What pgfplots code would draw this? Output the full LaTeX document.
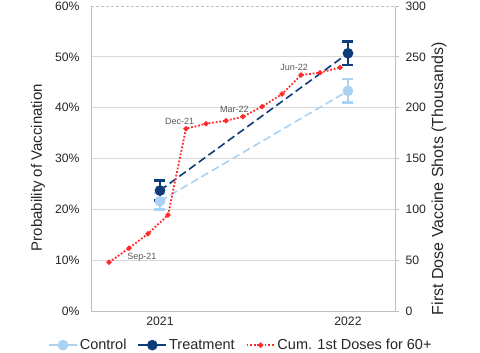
\documentclass[border=0pt]{standalone}
\usepackage{pgfplots}
\pgfplotsset{compat=1.18}
\usepackage{fontspec}
\setmainfont{Liberation Sans}
\definecolor{ctrl}{HTML}{A9D2F3}
\definecolor{treat}{HTML}{0D3C78}
\definecolor{cum}{HTML}{FF2A2A}
\definecolor{gridc}{HTML}{D9D9D9}
\definecolor{axc}{HTML}{BFBFBF}
\definecolor{txt}{HTML}{262626}
\definecolor{lbl}{HTML}{595959}
\begin{document}
\begin{tikzpicture}[x=1pt,y=1pt]
\path[use as bounding box] (-91,-42) rectangle (389,311);
\begin{axis}[
  scale only axis, width=304pt, height=305pt,
  xmin=-0.367, xmax=1.25, ymin=0, ymax=60,
  xtick={0,1}, xticklabels={2021,2022},
  ytick={0,10,...,60},
  yticklabel={\pgfmathprintnumber{\tick}\%},
  /pgf/number format/assume math mode=true,
  axis line style={axc, line width=0.8pt},
  major tick length=0pt,
  ymajorgrids, grid style={gridc, line width=0.8pt},
  tick label style={font=\fontsize{12.2}{14}\selectfont, text=txt},
  yticklabel style={xshift=-8pt},
  ytick pos=left, xtick pos=bottom,
  xticklabel style={yshift=-2pt},
  ylabel={Probability of Vaccination},
  ylabel style={font=\fontsize{15}{17}\selectfont, text=txt, at={(axis description cs:-0.174,0.47)}, anchor=center, rotate=0},
  legend style={draw=none, fill=none, at={(axis description cs:0.493,-0.112)}, anchor=center,
    font=\fontsize{14.5}{16}\selectfont, text=txt, legend columns=3,
    /tikz/every even column/.append style={column sep=9pt},
    nodes={inner xsep=2pt, inner ysep=0.5pt}},
  legend image code/.code={\draw[mark repeat=2,mark phase=2,#1] plot coordinates {(0pt,0pt) (14pt,0pt) (28pt,0pt)};},
]
\draw[white, line width=1.4pt] (rel axis cs:0,1) -- (rel axis cs:1,1);
\draw[axc, line width=0.8pt, dash pattern=on 3pt off 2pt] (rel axis cs:0,1) -- (rel axis cs:1,1);
\addlegendimage{ctrl, line width=1.6pt, mark=*, mark size=4.5pt, mark options={fill=ctrl}}
\addlegendentry{Control}
\addlegendimage{treat, line width=1.6pt, mark=*, mark size=4.5pt, mark options={fill=treat}}
\addlegendentry{Treatment}
\addlegendimage{cum, line width=1.8pt, dash pattern=on 1.8pt off 1.8pt, mark=*, mark size=1.6pt, mark options={solid, fill=cum}}
\addlegendentry{Cum. 1st Doses for 60+}
\addplot[forget plot, ctrl, line width=1.6pt, dash pattern=on 8pt off 4pt,
  mark=*, mark size=4.5pt, mark options={solid, fill=ctrl},
  error bars/.cd, y dir=both, y explicit,
  error bar style={line width=2.6pt, ctrl, solid},
  error mark options={rotate=90, mark size=5.5pt, line width=2.6pt, ctrl, solid}]
  coordinates {(0,21.6) +- (0,1.6) (1,43.3) +- (0,2.3)};
\addplot[forget plot, treat, line width=1.6pt, dash pattern=on 8pt off 4pt,
  mark=*, mark size=4.5pt, mark options={solid, fill=treat},
  error bars/.cd, y dir=both, y explicit,
  error bar style={line width=2.6pt, treat, solid},
  error mark options={rotate=90, mark size=5.5pt, line width=2.6pt, treat, solid}]
  coordinates {(0,23.7) +- (0,2.0) (1,50.7) +- (0,2.3)};
\end{axis}
\begin{axis}[
  scale only axis, width=304pt, height=305pt,
  xmin=-0.367, xmax=1.25, ymin=0, ymax=300,
  hide x axis,
  ytick={0,50,...,300},
  /pgf/number format/assume math mode=true,
  axis line style={axc, line width=0.8pt},
  ytick pos=right, tick align=outside, major tick length=4pt,
  tick style={axc, line width=0.8pt},
  tick label style={font=\fontsize{12.2}{14}\selectfont, text=txt},
  yticklabel style={xshift=3pt},
  ylabel={First Dose Vaccine Shots (Thousands)},
  ylabel style={font=\fontsize{16}{18}\selectfont, text=txt, at={(axis description cs:1.145,0.433)}, anchor=center, rotate=0},
]
\addplot[cum, line width=1.8pt, dash pattern=on 1.8pt off 1.8pt,
  mark=*, mark size=1.6pt, mark options={solid, fill=cum}]
  coordinates {(-0.271,47.9) (-0.165,61.7) (-0.064,76.0) (0.043,94.4) (0.138,179.3)
   (0.245,184.2) (0.351,187.2) (0.441,191.1) (0.543,201.0) (0.649,213.4)
   (0.750,232.1) (0.851,234.4) (0.957,239.5)};
\node[font=\fontsize{9}{10}\selectfont, text=lbl] at (axis cs:-0.096,53.1) {Sep-21};
\node[font=\fontsize{9}{10}\selectfont, text=lbl] at (axis cs:0.104,186.4) {Dec-21};
\node[font=\fontsize{9}{10}\selectfont, text=lbl] at (axis cs:0.396,198.7) {Mar-22};
\node[font=\fontsize{9}{10}\selectfont, text=lbl] at (axis cs:0.713,240.0) {Jun-22};
\end{axis}
\end{tikzpicture}
\end{document}
